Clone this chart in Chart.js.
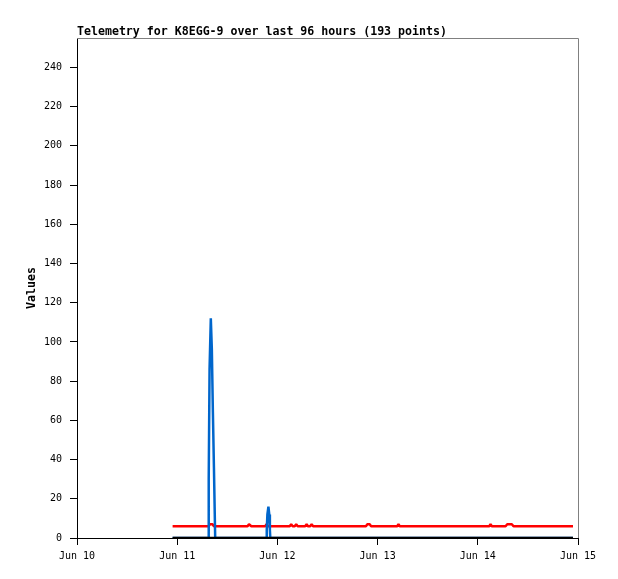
<!DOCTYPE html>
<html>
<head>
<meta charset="utf-8">
<script src="https://cdn.jsdelivr.net/npm/chart.js@4/dist/chart.umd.min.js"></script>
<style>
html, body { margin: 0; padding: 0; background: #fff; }
canvas { display: block; }
</style>
</head>
<body>
<canvas id="Chart_1" width="618" height="579"></canvas>
<script>
var chartTitle = 'Telemetry for K8EGG-9 over last 96 hours (193 points)';
var yTitle = 'Values';
// x is hours since Jun 10 00:00
var dayLabels = ['Jun 10', 'Jun 11', 'Jun 12', 'Jun 13', 'Jun 14', 'Jun 15'];

var blackHours = [22.9, 118.8];
var blackValues = [0, 0];

var blueHours = [22.9, 31.4, 31.55, 31.75, 32.05, 32.3, 32.55, 32.8, 32.98, 33.1,
                 45.35, 45.45, 45.6, 45.85, 46.05, 46.2, 46.3, 118.8];
var blueValues = [0, 0, 30, 86, 112, 96, 64, 36, 14, 0,
                  0, 4, 12, 16, 12, 4, 0, 0];

var redHours = [22.9, 31.5, 31.86, 32.46, 32.8, 40.85, 41.2, 41.4, 41.75,
                45.1, 45.4, 45.7, 50.95, 51.3, 51.65, 52.15, 52.5, 52.85,
                54.65, 55.0, 55.3, 55.85, 56.2, 56.55, 69.2, 69.55, 70.1, 70.45,
                76.7, 77.0, 77.3, 98.75, 99.05, 99.35, 102.65, 103.05, 104.15, 104.55, 118.8];
var redValues = [6, 6, 7, 7, 6, 6, 7, 7, 6,
                 6, 7, 6, 6, 7, 6, 6, 7, 6,
                 6, 7, 6, 6, 7, 6, 6, 7, 7, 6,
                 6, 7, 6, 6, 7, 6, 6, 7, 7, 6, 6];

function pts(xs, ys) {
    return xs.map(function (x, i) { return { x: x, y: ys[i] }; });
}

var monoFont = 'DejaVu Sans Mono';

var framePlugin = {
    id: 'frame',
    afterDraw: function (chart) {
        var c = chart.ctx, a = chart.chartArea;
        c.save();
        c.strokeStyle = '#808080';
        c.lineWidth = 1;
        c.beginPath();
        c.moveTo(a.left, a.top + 0.5);
        c.lineTo(a.right + 0.5, a.top + 0.5);
        c.lineTo(a.right + 0.5, a.bottom);
        c.stroke();
        c.fillStyle = '#000';
        c.font = 'bold 11.6px "' + monoFont + '"';
        c.textBaseline = 'alphabetic';
        c.textAlign = 'left';
        c.fillText(chartTitle, a.left, 35);
        c.translate(32, (a.top + a.bottom) / 2);
        c.rotate(-Math.PI / 2);
        c.textAlign = 'center';
        c.textBaseline = 'middle';
        c.fillText(yTitle, 0, 0);
        c.restore();
    }
};

var ctx = document.getElementById('Chart_1');
var chart = new Chart(ctx, {
    type: 'line',
    data: {
        datasets: [{
            label: 'black',
            borderColor: '#000000',
            backgroundColor: '#000000',
            borderWidth: 2.5,
            data: pts(blackHours, blackValues)
        }, {
            label: 'blue',
            borderColor: 'rgb(0, 102, 204)',
            backgroundColor: 'rgb(0, 102, 204)',
            borderWidth: 2.5,
            data: pts(blueHours, blueValues)
        }, {
            label: 'red',
            borderColor: '#ff0000',
            backgroundColor: '#ff0000',
            borderWidth: 2.5,
            data: pts(redHours, redValues)
        }]
    },
    options: {
        responsive: false,
        animation: false,
        layout: { padding: { left: 0, right: 40, top: 38, bottom: 0 } },
        elements: { point: { radius: 0 }, line: { tension: 0, borderJoinStyle: 'bevel' } },
        plugins: { legend: { display: false }, tooltip: { enabled: false } },
        scales: {
            x: {
                type: 'linear',
                min: 0,
                max: 120,
                afterFit: function (s) { s.height = 41; },
                grid: { drawOnChartArea: false, tickLength: 7, color: '#000' },
                border: { color: '#000' },
                ticks: {
                    stepSize: 24,
                    padding: 5,
                    maxRotation: 0,
                    color: '#000',
                    font: { family: monoFont, size: 10 },
                    callback: function (v) { return dayLabels[Math.round(v / 24)]; }
                }
            },
            y: {
                min: 0,
                max: 255,
                afterFit: function (s) { s.width = 77; },
                grid: { drawOnChartArea: false, tickLength: 7, color: '#000' },
                border: { color: '#000' },
                ticks: {
                    stepSize: 20,
                    includeBounds: false,
                    padding: 8,
                    color: '#000',
                    font: { family: monoFont, size: 10 }
                }
            }
        }
    },
    plugins: [framePlugin]
});
</script>
</body>
</html>
